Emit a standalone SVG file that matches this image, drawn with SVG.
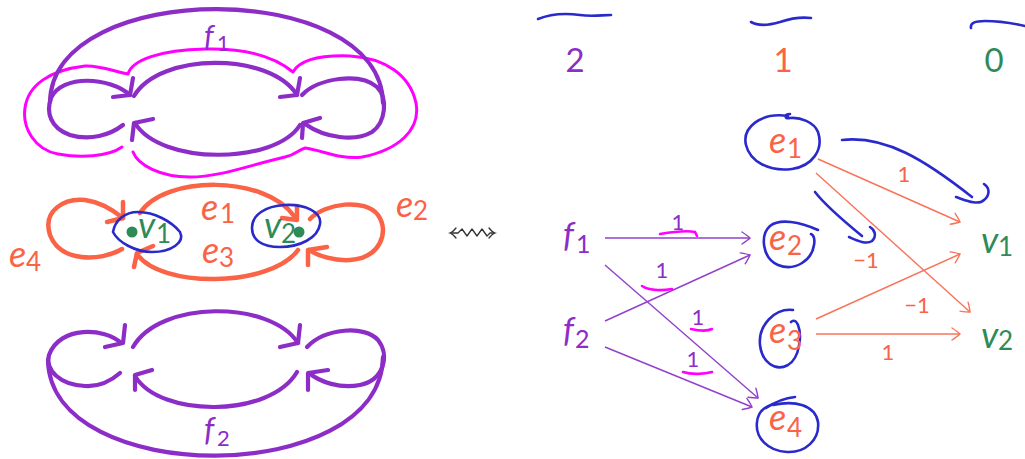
<svg xmlns="http://www.w3.org/2000/svg" width="1025" height="459" viewBox="0 0 1025 459">
<style>
.pu{fill:none;stroke:#8C2DC8;stroke-width:4.2;stroke-linecap:round;stroke-linejoin:round}
.mg{fill:none;stroke:#FF00FF;stroke-width:3;stroke-linecap:round;stroke-linejoin:round}
.or{fill:none;stroke:#FA6346;stroke-width:4.5;stroke-linecap:round;stroke-linejoin:round}
.bl{fill:none;stroke:#2A2ACC;stroke-width:2.6;stroke-linecap:round;stroke-linejoin:round}
.tp{fill:none;stroke:#9240CC;stroke-width:1.4}
.to{fill:none;stroke:#FA7358;stroke-width:1.4}
.ul{fill:none;stroke:#FF00FF;stroke-width:2.6;stroke-linecap:round}
text{font-family:Lato,"DejaVu Sans",sans-serif}
.v{font-style:italic}
.cp{fill:#8C2DC8}.co{fill:#FA6346}.cg{fill:#2E8B57}
.m{font-size:36px}.s{font-size:26px}
.lb{font-size:22px;text-anchor:middle}
.dg{font-size:33px;text-anchor:middle}
</style>
<defs>
<marker id="ap" viewBox="-10 -8 12 16" refX="0" refY="0" markerWidth="12" markerHeight="16" markerUnits="userSpaceOnUse" orient="auto" overflow="visible"><path d="M -8,-6 C -5,-4 -1,-1 0,0 C -1,1 -5,4 -8,6" fill="none" stroke="#9240CC" stroke-width="1.4" stroke-linecap="round"/></marker>
<marker id="ao" viewBox="-10 -8 12 16" refX="0" refY="0" markerWidth="12" markerHeight="16" markerUnits="userSpaceOnUse" orient="auto" overflow="visible"><path d="M -8,-6 C -5,-4 -1,-1 0,0 C -1,1 -5,4 -8,6" fill="none" stroke="#FA7358" stroke-width="1.4" stroke-linecap="round"/></marker>
</defs>

<!-- top surface f1 -->
<g id="surface-f1">
<path class="mg" d="M 122,147 C 108,157 80,158 58,154 C 35,150 22,128 25,108 C 28,85 50,70 85,66 C 100,65 115,72 128,74 C 132,60 160,50 205,49 C 245,48 275,57 293,72 C 300,60 320,55 350,56 C 385,58 410,75 416,103 C 421,130 398,150 362,157 C 340,160 322,150 305,148 C 298,150 296,155 285,157 C 250,165 220,177 190,177 C 160,177 138,165 133,152"/>
<path class="pu" d="M 50,102 C 52,-22 381,-22 383,103"/>
<path class="pu" d="M 130,95 C 110,77 62,74 51,98 C 46,112 50,128 70,135 C 90,141 110,135 123,125"/>
<path class="pu" d="M 302,95 C 318,78 360,72 377,87 C 388,98 386,122 372,132 C 355,142 325,138 305,124"/>
<path class="pu" d="M 134,96 C 160,52 270,52 297,95"/>
<path class="pu" d="M 300,125 C 275,165 160,165 135,123"/>
<path class="pu" d="M 113,97 L 130,95 L 133,78"/>
<path class="pu" d="M 280,97 L 297,95 L 300,78"/>
<path class="pu" d="M 153,119 L 134,123 L 132,140"/>
<path class="pu" d="M 320,118 L 303,123 L 302,138"/>
<text class="v cp" x="204" y="47" font-size="30">f</text>
<text class="cp" x="217" y="51" font-size="21">1</text>
</g>

<!-- middle graph -->
<g id="graph-e">
<path class="or" d="M 140,213 C 165,175 265,175 294,216"/>
<path class="or" d="M 298,250 C 270,288 160,288 137,254"/>
<path class="or" d="M 122,249 C 100,262 60,262 50,235 C 42,210 65,198 85,200 C 100,202 113,210 123,218"/>
<path class="or" d="M 310,219 C 325,203 365,198 378,215 C 390,232 380,258 350,260 C 335,261 318,256 309,250"/>
<path class="or" d="M 107,222 L 123,218 L 123,202"/>
<path class="or" d="M 282,218 L 297,220 L 297,206"/>
<path class="or" d="M 153,246 L 137,253 L 134,267"/>
<path class="or" d="M 327,247 L 308,250 L 308,265"/>
<path class="bl" d="M 113,232 C 115,220 125,212 138,212 C 155,212 172,222 180,232 C 185,242 172,252 152,252 C 135,252 118,242 113,232 Z"/>
<path class="bl" d="M 252,228 C 252,215 265,206 285,205 C 305,204 322,212 320,224 C 318,238 300,247 280,247 C 262,247 252,240 252,228 Z"/>
<circle cx="132" cy="232" r="5.5" fill="#2E8B57"/>
<circle cx="299" cy="232" r="5.5" fill="#2E8B57"/>
<text class="v cg m" x="138" y="238">v</text><text class="cg s" x="156" y="243">1</text>
<text class="v cg m" x="264" y="238">v</text><text class="cg s" x="281" y="243">2</text>
<text class="v co m" x="201" y="220">e</text><text class="co s" x="220" y="223">1</text>
<text class="v co m" x="202" y="263">e</text><text class="co s" x="219" y="267">3</text>
<text class="v co m" x="396" y="217">e</text><text class="co s" x="413" y="220">2</text>
<text class="v co m" x="9" y="267">e</text><text class="co s" x="26" y="271">4</text>
</g>

<!-- bottom surface f2 -->
<g id="surface-f2">
<path class="pu" d="M 48,360 C 50,488 381,488 383,357"/>
<path class="pu" d="M 121,343 C 105,328 60,325 49,355 C 45,370 60,385 85,386 C 100,387 112,380 120,373"/>
<path class="pu" d="M 307,347 C 325,328 365,325 378,340 C 390,355 384,380 360,385 C 340,389 320,382 309,373"/>
<path class="pu" d="M 133,347 C 160,300 270,300 298,343"/>
<path class="pu" d="M 297,372 C 270,418 160,418 135,376"/>
<path class="pu" d="M 105,347 L 123,343 L 125,325"/>
<path class="pu" d="M 280,347 L 298,343 L 300,325"/>
<path class="pu" d="M 152,370 L 135,375 L 135,390"/>
<path class="pu" d="M 328,370 L 308,373 L 308,390"/>
<text class="v cp" x="204" y="441" font-size="32">f</text>
<text class="cp" x="217" y="446" font-size="22">2</text>
</g>

<!-- squiggly double arrow -->
<g id="squiggle">
<path d="M 451,233 L 458,233 L 462,229 L 467,236 L 472,229 L 477,236 L 482,229 L 487,236 L 490,233 L 494,233" fill="none" stroke="#333" stroke-width="1.3" stroke-linejoin="round"/>
<path d="M 456,228 Q 453,232 450,233 Q 453,234 456,238" fill="none" stroke="#333" stroke-width="1.3" stroke-linecap="round"/>
<path d="M 489,228 Q 492,232 495,233 Q 492,234 489,238" fill="none" stroke="#333" stroke-width="1.3" stroke-linecap="round"/>
</g>

<!-- degree headers -->
<g id="headers">
<path class="bl" d="M 538,19 C 550,14 565,13 580,15 C 592,17 602,15 611,15"/>
<path class="bl" d="M 751,22 C 758,26 770,25 780,22 C 792,18 803,17 811,18"/>
<path class="bl" d="M 971,28 C 970,23 975,21 985,21 C 1000,21 1012,23 1025,26"/>
<text class="dg cp" x="575" y="72">2</text>
<text class="dg co" x="783" y="72">1</text>
<text class="dg cg" x="994" y="72">0</text>
</g>

<!-- connectors -->
<g id="connectors">
<path class="tp" d="M 605,238 L 750,238" marker-end="url(#ap)"/>
<path class="tp" d="M 605,321 L 750,255" marker-end="url(#ap)"/>
<path class="tp" d="M 605,265 L 758,398" marker-end="url(#ap)"/>
<path class="tp" d="M 605,347 L 752,407" marker-end="url(#ap)"/>
<path class="to" d="M 818,159 L 960,222" marker-end="url(#ao)"/>
<path class="to" d="M 816,173 L 970,312" marker-end="url(#ao)"/>
<path class="to" d="M 816,319 L 960,254" marker-end="url(#ao)"/>
<path class="to" d="M 816,334 L 960,334" marker-end="url(#ao)"/>
<text class="lb cp" x="678" y="230">1</text>
<text class="lb cp" x="662" y="278">1</text>
<text class="lb cp" x="698" y="325">1</text>
<text class="lb cp" x="693" y="367">1</text>
<text class="lb co" x="904" y="182">1</text>
<text class="lb co" x="866" y="268">−1</text>
<text class="lb co" x="917" y="313">−1</text>
<text class="lb co" x="888" y="360">1</text>
<path class="ul" d="M 660,234 C 672,232 685,230 695,232 L 697,236"/>
<path class="ul" d="M 642,286 C 648,290 660,291 672,289"/>
<path class="ul" d="M 691,329 C 700,331 708,331 712,329"/>
<path class="ul" d="M 683,372 C 692,375 705,374 712,372"/>
<path class="bl" d="M 842,140 C 885,135 925,160 972,197 M 956,197 C 965,200 978,206 984,200 C 990,195 990,188 984,184"/>
<path class="bl" d="M 815,192 C 825,205 840,218 862,236 M 849,237 C 856,240 866,245 872,241 C 877,236 875,230 870,227"/>
</g>

<!-- nodes -->
<g id="node-f1"><text class="v cp" x="563" y="247" font-size="34">f</text><text class="cp" x="576" y="253" font-size="25">1</text></g>
<g id="node-f2"><text class="v cp" x="563" y="342" font-size="34">f</text><text class="cp" x="575" y="348" font-size="25">2</text></g>
<g id="node-e1"><path class="bl" d="M 788,116 C 760,112 742,128 746,145 C 750,162 770,172 792,169 C 812,166 824,150 818,132 C 814,122 800,117 790,118 C 785,119 783,114 790,114"/><text class="v co m" x="769" y="153">e</text><text class="co s" x="787" y="158">1</text></g>
<g id="node-e2"><path class="bl" d="M 818,230 C 800,222 780,218 770,226 C 760,235 762,258 778,265 C 795,272 812,260 814,245 C 815,240 814,235 811,234"/><text class="v co m" x="769" y="250">e</text><text class="co s" x="787" y="255">2</text></g>
<g id="node-e3"><path class="bl" d="M 793,310 C 775,308 758,325 760,345 C 762,362 775,372 788,365 C 800,358 802,335 798,325 C 796,320 793,320 791,322"/><text class="v co m" x="769" y="343">e</text><text class="co s" x="787" y="350">3</text></g>
<g id="node-e4"><path class="bl" d="M 766,408 C 775,402 785,398 795,397"/><path class="bl" d="M 773,405 C 795,400 815,405 818,422 C 820,440 805,453 787,452 C 768,451 755,438 757,422 C 758,412 765,406 775,404"/><text class="v co m" x="769" y="430">e</text><text class="co s" x="787" y="437">4</text></g>
<g id="node-v1"><text class="v cg m" x="981" y="253">v</text><text class="cg s" x="998" y="256">1</text></g>
<g id="node-v2"><text class="v cg m" x="981" y="348">v</text><text class="cg s" x="998" y="350">2</text></g>
</svg>
